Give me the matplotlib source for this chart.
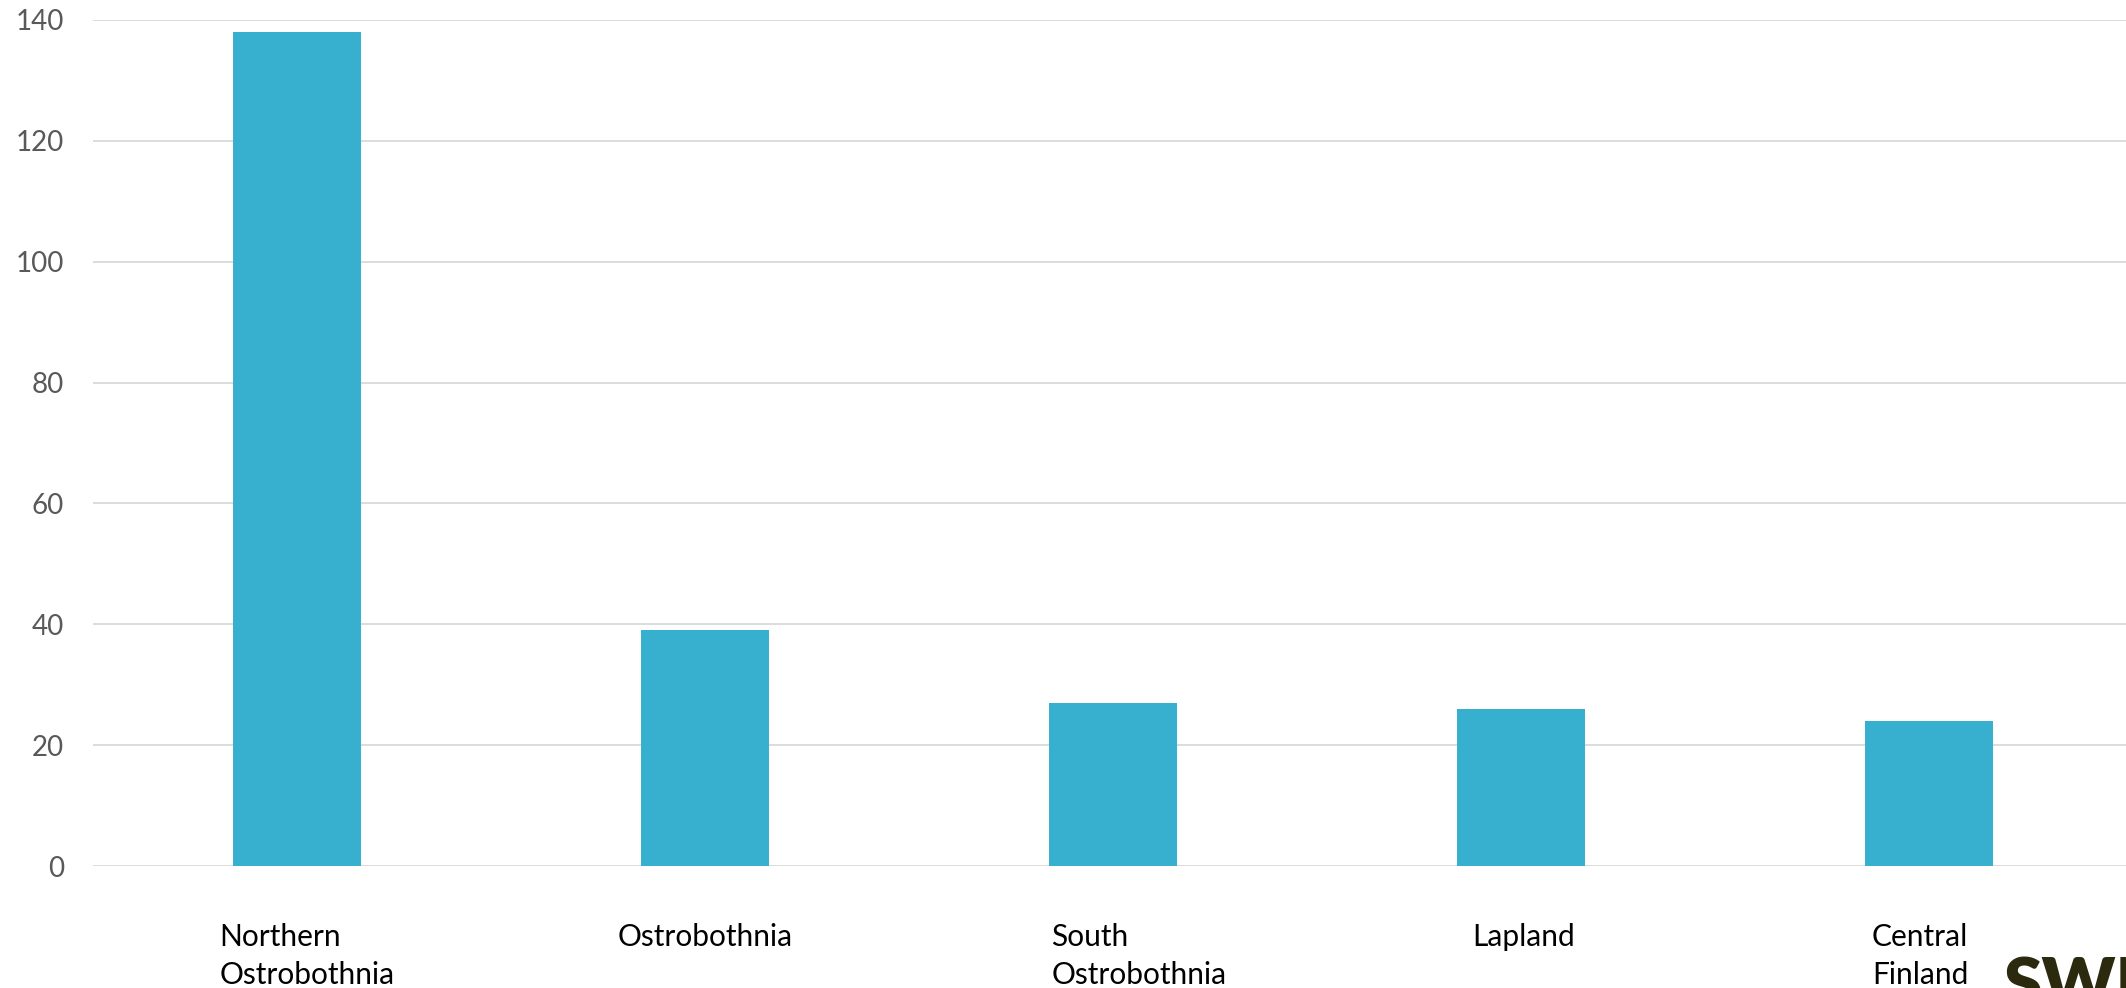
import matplotlib
matplotlib.use("Agg")
import matplotlib.pyplot as plt
from matplotlib.transforms import ScaledTranslation

# data
regions = ["Northern\nOstrobothnia", "Ostrobothnia", "South\nOstrobothnia",
           "Lapland", "Central\nFinland"]
counts = [138, 39, 27, 26, 24]
y_ticks = [0, 20, 40, 60, 80, 100, 120, 140]

BAR_COLOR = "#37AFCF"
GRID_COLOR = "#D9D9D9"
TICK_COLOR = "#595959"

plt.rcParams["font.family"] = ["Lato", "DejaVu Sans"]

fig = plt.figure(figsize=(21.26, 9.88), dpi=100)
ax = fig.add_axes([93 / 2126, 122 / 988, 2040 / 2126, 846 / 988])

x = range(len(regions))
ax.bar(x, counts, width=0.314, color=BAR_COLOR, zorder=3)

ax.set_xlim(-0.5, len(regions) - 0.5)
ax.set_ylim(0, 140)
ax.set_yticks(y_ticks)
ax.yaxis.grid(True, color=GRID_COLOR, linewidth=1.3, zorder=0)
ax.set_axisbelow(True)
for s in ax.spines.values():
    s.set_visible(False)

ax.tick_params(axis="y", length=0, pad=21, labelsize=20, labelcolor=TICK_COLOR)
ax.tick_params(axis="x", length=0, pad=41, labelsize=21.5, labelcolor="black")
ax.set_xticks(list(x))
labels = ax.set_xticklabels(regions, multialignment="left", linespacing=1.45)

# excel's wrapped label boxes sit a little off-centre; nudge them (px)
nudges = [10, 0, 26, 3, -9]
for lab, dx in zip(labels, nudges):
    lab.set_transform(lab.get_transform() + ScaledTranslation(dx / 100, 0, fig.dpi_scale_trans))

# logo text, cut off at the figure edge like in the source
fig.text(2003 / 2126, -0.032, "SWECO", fontsize=50, fontweight="heavy",
         color="#2B2A0E", ha="left", va="bottom")

fig.savefig("out.png", dpi=100)
